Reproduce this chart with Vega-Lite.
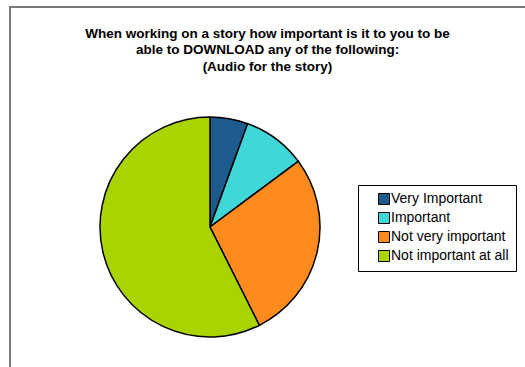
{
  "$schema": "https://vega.github.io/schema/vega-lite/v6.json",
  "width": 525,
  "height": 367,
  "autosize": {"type": "fit", "contains": "padding"},
  "padding": {"left": 10, "top": 7, "right": -4, "bottom": -4},
  "background": "white",
  "view": {"stroke": "#7a7a7a", "strokeWidth": 2},
  "title": {
    "text": ["When working on a story how important is it to you to be", "able to DOWNLOAD any of the following:", "(Audio for the story)"],
    "font": "Liberation Sans",
    "fontSize": 13.5,
    "fontWeight": "bold",
    "color": "black",
    "anchor": "middle",
    "frame": "group",
    "baseline": "top",
    "offset": -66,
    "dx": -2,
    "lineHeight": 16.5
  },
  "data": {
    "values": [
      {"response": "Very Important", "count": 3, "rank": 1},
      {"response": "Important", "count": 5, "rank": 2},
      {"response": "Not very important", "count": 15, "rank": 3},
      {"response": "Not important at all", "count": 31, "rank": 4}
    ]
  },
  "mark": {"type": "arc", "outerRadius": 110, "x": 200, "y": 220, "stroke": "black", "strokeWidth": 1.5},
  "encoding": {
    "theta": {"field": "count", "type": "quantitative", "stack": true},
    "order": {"field": "rank", "type": "quantitative"},
    "color": {
      "field": "response",
      "type": "nominal",
      "sort": null,
      "scale": {
        "domain": ["Very Important", "Important", "Not very important", "Not important at all"],
        "range": ["#1d5b8e", "#3fd7d7", "#ff8b1f", "#aad400"]
      },
      "legend": {
        "orient": "none",
        "legendX": 348,
        "legendY": 178,
        "title": null,
        "padding": 7,
        "symbolOffset": 12,
        "symbolType": "square",
        "symbolSize": 121,
        "symbolStrokeColor": "black",
        "symbolStrokeWidth": 1,
        "labelOffset": 0,
        "labelFont": "Liberation Sans",
        "labelFontSize": 14,
        "labelColor": "black",
        "rowPadding": 3,
        "strokeColor": "black",
        "fillColor": "white"
      }
    }
  }
}
